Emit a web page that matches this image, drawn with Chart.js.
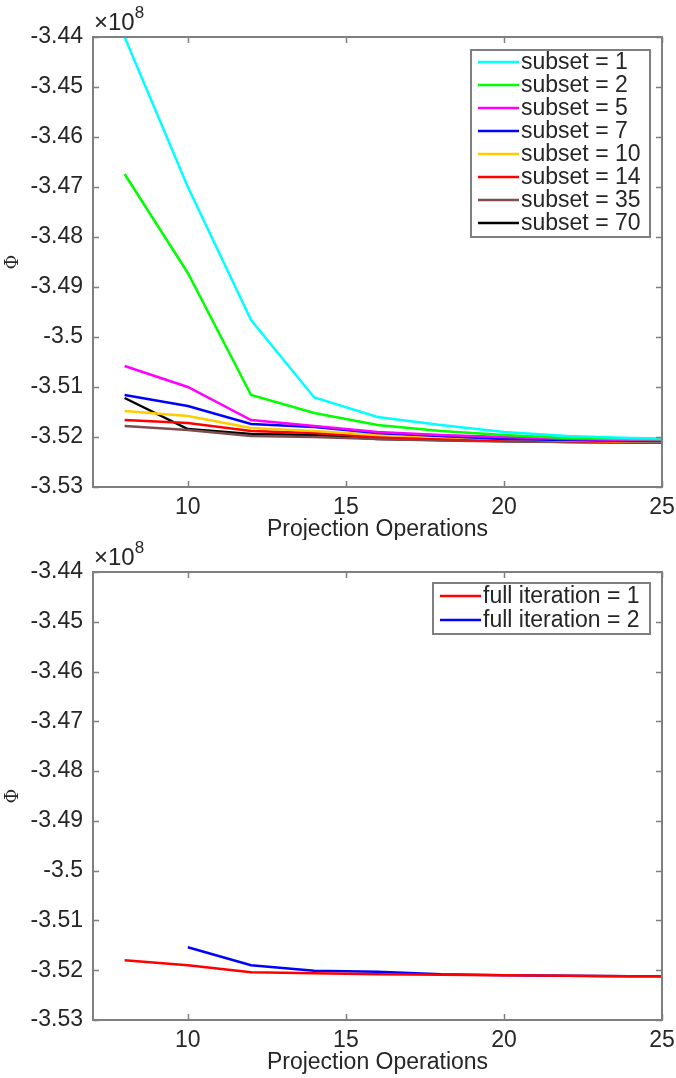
<!DOCTYPE html>
<html>
<head>
<meta charset="utf-8">
<script src="https://cdn.jsdelivr.net/npm/chart.js@4"></script>
<style>
  body { margin: 0; background: #fff; }
  .box { position: relative; width: 676px; }
</style>
</head>
<body>
<div class="box" style="height:540px"><canvas id="top"></canvas></div>
<div class="box" style="height:538px"><canvas id="bottom"></canvas></div>
<script>
// x positions (projection operations)
const ops = [8, 10, 12, 14, 16, 18, 20, 22, 24, 26];
const yTicks = [-3.44, -3.45, -3.46, -3.47, -3.48, -3.49, -3.5, -3.51, -3.52, -3.53];
const xTicks = [10, 15, 20, 25];

// top panel, values in units of 1e8
const subsetNames = ['subset = 1', 'subset = 2', 'subset = 5', 'subset = 7', 'subset = 10', 'subset = 14', 'subset = 35', 'subset = 70'];
const subsetColors = ['#00ffff', '#00ff00', '#ff00ff', '#0000ff', '#ffcc00', '#ff0000', '#7d4d4d', '#000000'];
const subset1  = [-3.4400, -3.4700, -3.4966, -3.5121, -3.5160, -3.5176, -3.5190, -3.5198, -3.5202, -3.5204];
const subset2  = [-3.4674, -3.4872, -3.5116, -3.5152, -3.5176, -3.5188, -3.5196, -3.5202, -3.5204, -3.5205];
const subset5  = [-3.5058, -3.5100, -3.5166, -3.5178, -3.5190, -3.5196, -3.5200, -3.5204, -3.5206, -3.5207];
const subset7  = [-3.5116, -3.5138, -3.5174, -3.5180, -3.5192, -3.5198, -3.5204, -3.5206, -3.5208, -3.5209];
const subset10 = [-3.5148, -3.5158, -3.5182, -3.5188, -3.5196, -3.5200, -3.5204, -3.5207, -3.5209, -3.5210];
const subset14 = [-3.5166, -3.5172, -3.5188, -3.5192, -3.5200, -3.5204, -3.5206, -3.5208, -3.5210, -3.5211];
const subset35 = [-3.5178, -3.5186, -3.5198, -3.5200, -3.5204, -3.5207, -3.5209, -3.5210, -3.5211, -3.5212];
const subset70 = [-3.5122, -3.5184, -3.5194, -3.5196, -3.5204, -3.5206, -3.5208, -3.5210, -3.5211, -3.5212];

// bottom panel
const fullNames = ['full iteration = 1', 'full iteration = 2'];
const fullColors = ['#ff0000', '#0000ff'];
const full1 = [-3.5180, -3.5190, -3.5204, -3.5206, -3.5208, -3.5209, -3.5210, -3.5211, -3.5212, -3.5212];
const full2 = [null, -3.5154, -3.5190, -3.5201, -3.5203, -3.5208, -3.5210, -3.5211, -3.5212, -3.5212];

const FONT = 'Liberation Sans, Arial, Helvetica, sans-serif';
const AXIS = '#7f7f7f';
const TEXT = '#262626';

function series(names, colors, arrays) {
  return arrays.map((arr, i) => ({
    label: names[i],
    data: ops.map((x, j) => ({ x: x, y: arr[j] })),
    borderColor: colors[i],
    backgroundColor: colors[i],
    borderWidth: 2.5,
    pointRadius: 0,
    tension: 0,
    spanGaps: false
  }));
}

// box, inward ticks, exponent label, legend box
const matlabLook = {
  id: 'matlabLook',
  afterDraw(chart, args, opts) {
    const ctx = chart.ctx;
    const a = chart.chartArea;
    const xs = chart.scales.x, ys = chart.scales.y;
    ctx.save();
    ctx.strokeStyle = AXIS;
    ctx.lineWidth = 2;
    ctx.strokeRect(a.left, a.top, a.right - a.left, a.bottom - a.top);
    ctx.lineWidth = 1.5;
    ctx.beginPath();
    xTicks.forEach(v => {
      const p = Math.round(xs.getPixelForValue(v)) + 0.5;
      ctx.moveTo(p, a.bottom); ctx.lineTo(p, a.bottom - 6);
      ctx.moveTo(p, a.top); ctx.lineTo(p, a.top + 6);
    });
    yTicks.forEach(v => {
      const p = Math.round(ys.getPixelForValue(v)) + 0.5;
      ctx.moveTo(a.left, p); ctx.lineTo(a.left + 6, p);
      ctx.moveTo(a.right, p); ctx.lineTo(a.right - 6, p);
    });
    ctx.stroke();

    // x10^8
    ctx.fillStyle = TEXT;
    ctx.textBaseline = 'alphabetic';
    ctx.textAlign = 'left';
    ctx.font = '24px ' + FONT;
    ctx.fillText('\u00d710', a.left + 1, a.top - 7);
    const w = ctx.measureText('\u00d710').width;
    ctx.font = '17px ' + FONT;
    ctx.fillText('8', a.left + 1 + w, a.top - 19);

    // legend
    const L = opts.box;
    ctx.fillStyle = '#fff';
    ctx.fillRect(L.x, L.y, L.w, L.h);
    ctx.strokeStyle = AXIS;
    ctx.lineWidth = 2;
    ctx.strokeRect(L.x, L.y, L.w, L.h);
    ctx.font = '23px ' + FONT;
    ctx.textBaseline = 'middle';
    chart.data.datasets.forEach((ds, i) => {
      const cy = L.y + L.first + i * L.row;
      ctx.strokeStyle = ds.borderColor;
      ctx.lineWidth = 2.5;
      ctx.beginPath();
      ctx.moveTo(L.x + 7, cy); ctx.lineTo(L.x + 48, cy);
      ctx.stroke();
      ctx.fillStyle = TEXT;
      ctx.fillText(ds.label, L.x + 50, cy + 1);
    });
    ctx.restore();
  }
};

function makeChart(id, datasets, box, topPad, bottomPad) {
  return new Chart(document.getElementById(id), {
    type: 'line',
    data: { datasets: datasets },
    plugins: [matlabLook],
    options: {
      responsive: true,
      maintainAspectRatio: false,
      animation: false,
      events: [],
      layout: { padding: { left: 0, top: topPad, right: 14, bottom: bottomPad } },
      plugins: {
        legend: { display: false },
        tooltip: { enabled: false },
        matlabLook: { box: box }
      },
      scales: {
        x: {
          type: 'linear',
          min: 7,
          max: 25,
          afterBuildTicks: s => { s.ticks = xTicks.map(v => ({ value: v })); },
          afterFit: s => { s.height = 53; s.paddingLeft = 0; s.paddingRight = 0; },
          grid: { display: false, drawTicks: false },
          border: { display: false },
          ticks: { color: TEXT, font: { family: FONT, size: 23 }, padding: 7, maxRotation: 0 },
          title: { display: true, text: 'Projection Operations', color: TEXT, font: { family: FONT, size: 23 }, padding: { top: -5, bottom: -3 } }
        },
        y: {
          type: 'linear',
          min: -3.53,
          max: -3.44,
          afterBuildTicks: s => { s.ticks = yTicks.map(v => ({ value: v })); },
          afterFit: s => { s.width = 93; s.paddingTop = 0; s.paddingBottom = 0; },
          grid: { display: false, drawTicks: false },
          border: { display: false },
          ticks: { color: TEXT, font: { family: FONT, size: 23 }, padding: 10, callback: v => String(v) },
          title: { display: true, text: '\u03a6', color: TEXT, font: { family: 'DejaVu Serif, serif', size: 18 }, padding: { top: 3, bottom: 0 } }
        }
      }
    }
  });
}

makeChart('top',
  series(subsetNames, subsetColors, [subset1, subset2, subset5, subset7, subset10, subset14, subset35, subset70]),
  { x: 471, y: 50, w: 179, h: 187, first: 12, row: 23 }, 37, 0);

makeChart('bottom',
  series(fullNames, fullColors, [full1, full2]),
  { x: 433, y: 43, w: 217, h: 51, first: 13, row: 24 }, 32, 5);
</script>
</body>
</html>
